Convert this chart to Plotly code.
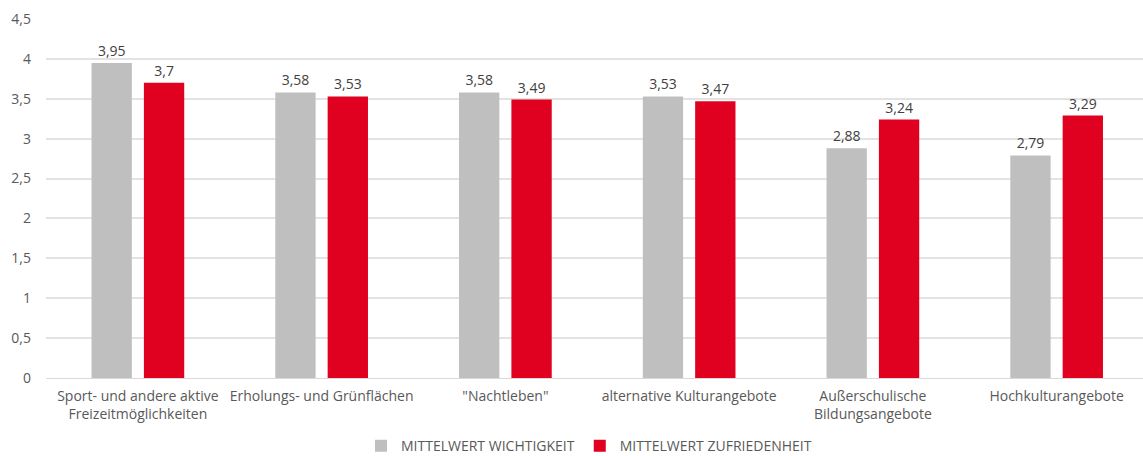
import plotly.graph_objects as go

kategorien = [
    "Sport- und andere aktive<br>Freizeitmöglichkeiten",
    "Erholungs- und Grünflächen",
    "\"Nachtleben\"",
    "alternative Kulturangebote",
    "Außerschulische<br>Bildungsangebote",
    "Hochkulturangebote",
]
wichtigkeit = [3.95, 3.58, 3.58, 3.53, 2.88, 2.79]
zufriedenheit = [3.7, 3.53, 3.49, 3.47, 3.24, 3.29]

y_ticks = [0, 0.5, 1, 1.5, 2, 2.5, 3, 3.5, 4, 4.5]
y_ticktext = ["0", "0,5", "1", "1,5", "2", "2,5", "3", "3,5", "4", "4,5"]


def fmt(v):
    return ("%g" % v).replace(".", ",")


fig = go.Figure()
fig.add_trace(go.Bar(
    name="MITTELWERT WICHTIGKEIT",
    x=kategorien, y=wichtigkeit,
    marker=dict(color="#bfbfbf", line=dict(width=0)),
    text=[fmt(v) for v in wichtigkeit],
    textposition="outside",
    textfont=dict(color="#404040", size=14),
    cliponaxis=False,
))
fig.add_trace(go.Bar(
    name="MITTELWERT ZUFRIEDENHEIT",
    x=kategorien, y=zufriedenheit,
    marker=dict(color="#e0001f", line=dict(width=0)),
    text=[fmt(v) for v in zufriedenheit],
    textposition="outside",
    textfont=dict(color="#404040", size=14),
    cliponaxis=False,
))

fig.update_layout(
    width=1143, height=456,
    margin=dict(l=46, r=0, t=19, b=78, autoexpand=False),
    paper_bgcolor="white", plot_bgcolor="white",
    font=dict(family="Open Sans, Noto Sans, sans-serif", size=14, color="#595959"),
    barmode="group",
    bargap=0.43,
    bargroupgap=0.23,
    legend=dict(orientation="h", x=0.495, xanchor="center", y=-0.19, yanchor="middle",
                font=dict(size=14, color="#595959"), itemwidth=30),
    xaxis=dict(range=[-0.5, 5.47], showgrid=False, showline=True, linecolor="#d9d9d9", linewidth=1,
               ticks="", ticklabelstandoff=5,
               tickfont=dict(size=14, color="#595959"), automargin=False),
    yaxis=dict(range=[0, 4.5], tickvals=y_ticks, ticktext=y_ticktext,
               showgrid=True, gridcolor="#e3e3e3", gridwidth=2,
               zeroline=False, showline=False, ticks="", ticklabelstandoff=14,
               tickfont=dict(size=14, color="#595959"), automargin=False),
)

fig.write_html("out.html", config={"displayModeBar": False},
               post_script="document.body.style.margin='0';")
